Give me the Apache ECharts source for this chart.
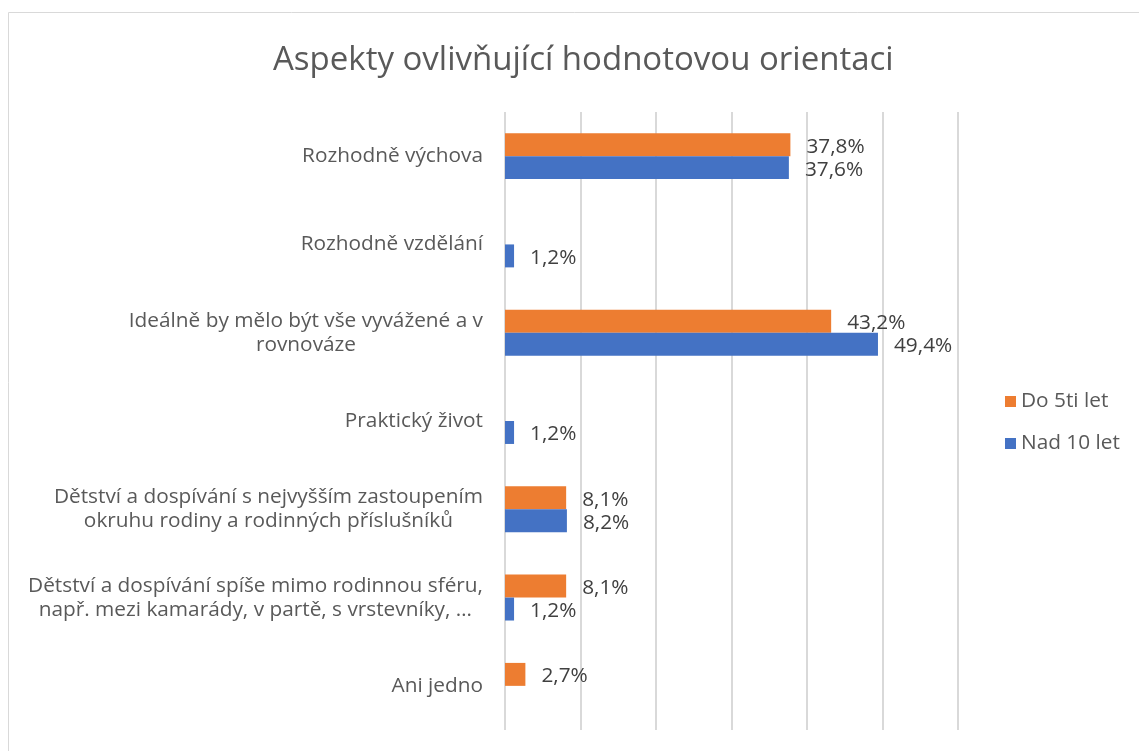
<!DOCTYPE html>
<html>
<head>
<meta charset="utf-8">
<script src="https://cdn.jsdelivr.net/npm/echarts@6/dist/echarts.min.js"></script>
<style>
html,body{margin:0;padding:0;background:#fff;}
#c{width:1139px;height:751px;}
</style>
</head>
<body>
<div id="c"></div>
<script>
const titleText = 'Aspekty ovlivňující hodnotovou orientaci';
const categories = [
  'Rozhodně výchova',
  'Rozhodně vzdělání',
  'Ideálně by mělo být vše vyvážené a v\nrovnováze',
  'Praktický život',
  'Dětství a dospívání s nejvyšším zastoupením\nokruhu rodiny a rodinných příslušníků',
  'Dětství a dospívání spíše mimo rodinnou sféru,\nnapř. mezi kamarády, v partě, s vrstevníky, …',
  'Ani jedno'
];
const seriesNames = ['Do 5ti let', 'Nad 10 let'];
const do5ti = [37.8, null, 43.2, null, 8.1, 8.1, 2.7];
const nad10 = [37.6, 1.2, 49.4, 1.2, 8.2, 1.2, null];
const xMin = 0, xMax = 60, xInterval = 10;

const font = 'Open Sans';
const fs = 20.8;

// centre the lines of each wrapped category label inside a right-aligned block
const cv = document.createElement('canvas').getContext('2d');
cv.font = fs + 'px "' + font + '"';
const rich = {};
categories.forEach((c, i) => {
  const lines = c.split('\n');
  const ws = lines.map(s => cv.measureText(s).width);
  const W = Math.max(...ws);
  ws.forEach((w, j) => {
    rich['l' + i + '_' + j] = {align: 'right', padding: [0, Math.round((W - w) / 2), 0, 0],
      color: '#595959', fontFamily: font, fontSize: fs, lineHeight: 24};
  });
});

const chart = echarts.init(document.getElementById('c'), null, {renderer: 'canvas'});
const labelFmt = p => p.value == null ? '' : p.value.toFixed(1).replace('.', ',') + '%';
function bar(name, data, color) {
  return {
    name: name, type: 'bar', data: data,
    barGap: '0%', barCategoryGap: '48%',
    itemStyle: {color: color},
    label: {show: true, position: 'right', distance: 16, offset: [0, 2], formatter: labelFmt,
      color: '#404040', fontFamily: font, fontSize: fs},
    emphasis: {disabled: true}
  };
}
chart.setOption({
  animation: false,
  graphic: [{type: 'rect', shape: {x: 8.5, y: 12.5, width: 1300, height: 900},
    style: {fill: null, stroke: '#d9d9d9', lineWidth: 1}, silent: true}],
  title: {text: titleText, left: 268, top: 39,
    textStyle: {color: '#595959', fontFamily: font, fontSize: 33, fontWeight: 'normal'}},
  legend: {orient: 'vertical', left: 1000, top: 386, itemGap: 21, icon: 'rect',
    itemWidth: 11, itemHeight: 11,
    textStyle: {color: '#595959', fontFamily: font, fontSize: fs}},
  grid: {left: 505, right: 181, top: 112, bottom: 21, containLabel: false},
  xAxis: {type: 'value', min: xMin, max: xMax, interval: xInterval,
    axisLabel: {show: false}, axisLine: {show: false}, axisTick: {show: false},
    splitLine: {show: true, lineStyle: {color: '#d9d9d9', width: 2}}},
  yAxis: {type: 'category', data: categories, inverse: true,
    axisLine: {show: false}, axisTick: {show: false},
    axisLabel: {margin: 22, color: '#595959', fontFamily: font, fontSize: fs, lineHeight: 24,
      formatter: (v, i) => v.split('\n').map((s, j) => '{l' + i + '_' + j + '|' + s + '}').join('\n'),
      rich: rich}},
  series: [bar(seriesNames[0], do5ti, '#ED7D31'), bar(seriesNames[1], nad10, '#4472C4')]
});
</script>
</body>
</html>
